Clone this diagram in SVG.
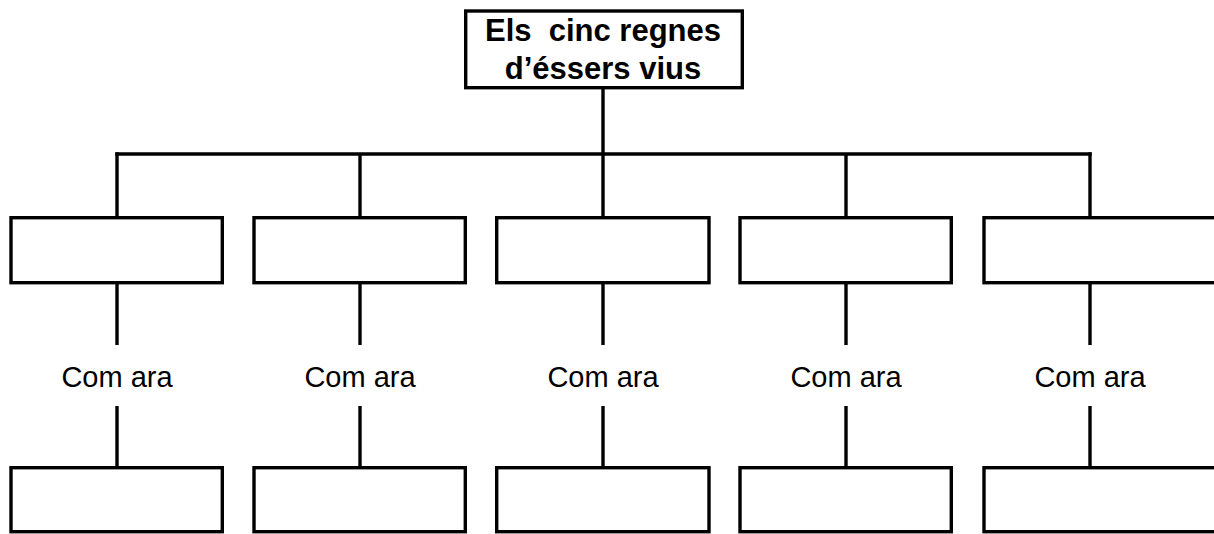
<svg xmlns="http://www.w3.org/2000/svg" width="1214" height="534" viewBox="0 0 1214 534">
<style>
.box{fill:#fff;stroke:#000;stroke-width:3.4}
.ln{stroke:#000;stroke-width:3.4;fill:none}
.t{font-family:"Liberation Sans",Arial,sans-serif;font-size:29px;text-anchor:middle;fill:#000}
.tb{font-family:"Liberation Sans",Arial,sans-serif;font-size:31px;font-weight:bold;text-anchor:middle;fill:#000}
</style>
<rect width="1214" height="534" fill="#fff"/>
<g id="connectors">
<line class="ln" x1="603" y1="88" x2="603" y2="154"/>
<line class="ln" x1="115.3" y1="154" x2="1091.7" y2="154"/>
<line class="ln" x1="117" y1="152.3" x2="117" y2="218"/>
<line class="ln" x1="360" y1="154" x2="360" y2="218"/>
<line class="ln" x1="603" y1="154" x2="603" y2="218"/>
<line class="ln" x1="846" y1="154" x2="846" y2="218"/>
<line class="ln" x1="1090" y1="152.3" x2="1090" y2="218"/>
<line class="ln" x1="117" y1="283" x2="117" y2="345"/>
<line class="ln" x1="360" y1="283" x2="360" y2="345"/>
<line class="ln" x1="603" y1="283" x2="603" y2="345"/>
<line class="ln" x1="846" y1="283" x2="846" y2="345"/>
<line class="ln" x1="1090" y1="283" x2="1090" y2="345"/>
<line class="ln" x1="117" y1="406" x2="117" y2="468"/>
<line class="ln" x1="360" y1="406" x2="360" y2="468"/>
<line class="ln" x1="603" y1="406" x2="603" y2="468"/>
<line class="ln" x1="846" y1="406" x2="846" y2="468"/>
<line class="ln" x1="1090" y1="406" x2="1090" y2="468"/>
</g>
<g id="root">
<rect class="box" x="465.7" y="11" width="276.6" height="76.7"/>
<text class="tb" x="603" y="41" xml:space="preserve">Els  cinc regnes</text>
<text class="tb" x="603" y="78.5">d’éssers vius</text>
</g>
<g id="kingdom1"><rect class="box" x="11" y="217.7" width="211.3" height="65"/></g>
<g id="kingdom2"><rect class="box" x="254" y="217.7" width="211.3" height="65"/></g>
<g id="kingdom3"><rect class="box" x="496.7" y="217.7" width="212.3" height="65"/></g>
<g id="kingdom4"><rect class="box" x="740" y="217.7" width="211.3" height="65"/></g>
<g id="kingdom5"><rect class="box" x="984" y="217.7" width="240" height="65"/></g>
<g id="label1"><text class="t" x="117" y="387">Com ara</text></g>
<g id="label2"><text class="t" x="360" y="387">Com ara</text></g>
<g id="label3"><text class="t" x="603" y="387">Com ara</text></g>
<g id="label4"><text class="t" x="846" y="387">Com ara</text></g>
<g id="label5"><text class="t" x="1090" y="387">Com ara</text></g>
<g id="example1"><rect class="box" x="11" y="467.7" width="211.3" height="64"/></g>
<g id="example2"><rect class="box" x="254" y="467.7" width="211.3" height="64"/></g>
<g id="example3"><rect class="box" x="496.7" y="467.7" width="212.3" height="64"/></g>
<g id="example4"><rect class="box" x="740" y="467.7" width="211.3" height="64"/></g>
<g id="example5"><rect class="box" x="984" y="467.7" width="240" height="64"/></g>
</svg>
